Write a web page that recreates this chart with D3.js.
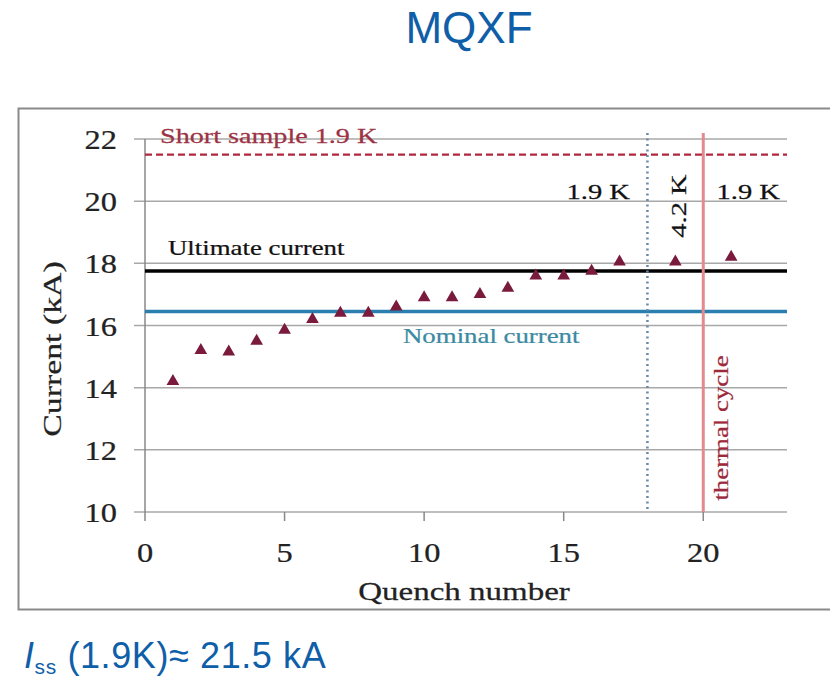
<!DOCTYPE html>
<html>
<head>
<meta charset="utf-8">
<script src="https://cdn.jsdelivr.net/npm/d3@7"></script>
<style>
  body { margin: 0; background: #fff; }
  svg text { font-family: "Liberation Serif", "Times New Roman", serif; }
</style>
</head>
<body>
<div id="chart"></div>
<script>
// quench data
const quenchNumbers = [1, 2, 3, 4, 5, 6, 7, 8, 9, 10, 11, 12, 13, 14, 15, 16, 17, 19, 21];
const quenchCurrents = [14.2, 15.2, 15.15, 15.5, 15.85, 16.2, 16.4, 16.4, 16.6, 16.9, 16.9, 17.0, 17.2, 17.6, 17.6, 17.75, 18.05, 18.05, 18.2];
const xTicks = [0, 5, 10, 15, 20];
const yTicks = [10, 12, 14, 16, 18, 20, 22];
const shortSample = 21.5;
const ultimateCurrent = 17.75;
const nominalCurrent = 16.45;
const tempChangeAt = 18;
const thermalCycleAt = 20;

const width = 830, height = 679;
const svg = d3.select('#chart').append('svg')
    .attr('width', width)
    .attr('height', height);

// serif text in the figure is wider than Liberation Serif, so stretch it a bit
function label(g, px, py, str, opts) {
    const o = Object.assign({ size: 22, sx: 1.3, anchor: 'start', rot: 0, fill: '#111' }, opts);
    return g.append('text')
        .attr('transform', `translate(${px},${py}) rotate(${o.rot}) scale(${o.sx},1)`)
        .attr('text-anchor', o.anchor)
        .style('font-size', o.size + 'px')
        .style('fill', o.fill)
        .style('stroke', o.fill)
        .style('stroke-width', 0.25)
        .text(str);
}

// title
svg.append('text')
    .attr('x', 469).attr('y', 43)
    .attr('text-anchor', 'middle')
    .style('font-family', '"Liberation Sans", Arial, sans-serif')
    .style('font-size', '44px')
    .style('fill', '#0f5ea8')
    .text('MQXF');

// outer frame of the figure
svg.append('rect')
    .attr('x', 18.5).attr('y', 108.5)
    .attr('width', 830).attr('height', 501)
    .style('fill', 'none')
    .style('stroke', '#8a8a8a')
    .style('stroke-width', 2);

const x = d3.scaleLinear().domain([0, 23]).range([145, 787]);
const y = d3.scaleLinear().domain([10, 22]).range([512, 139]);

// horizontal gridlines + y ticks
svg.append('g')
    .selectAll('line')
    .data(yTicks)
    .enter().append('line')
    .attr('x1', x(0) - 11)
    .attr('x2', x(23))
    .attr('y1', d => y(d))
    .attr('y2', d => y(d))
    .style('stroke', '#a8a8a8')
    .style('stroke-width', 1.5);

const yLab = svg.append('g');
yTicks.forEach(d => label(yLab, 117, y(d) + 10, d, { size: 27, sx: 1.2, anchor: 'end', fill: '#222' }));

// axes lines
svg.append('line')
    .attr('x1', x(0)).attr('x2', x(0))
    .attr('y1', y(22)).attr('y2', y(10))
    .style('stroke', '#888').style('stroke-width', 1.5);

svg.append('g')
    .selectAll('line')
    .data(xTicks)
    .enter().append('line')
    .attr('x1', d => x(d)).attr('x2', d => x(d))
    .attr('y1', y(10)).attr('y2', y(10) + 9)
    .style('stroke', '#888').style('stroke-width', 1.5);

const xLab = svg.append('g');
xTicks.forEach(d => label(xLab, x(d), 562, d, { size: 27, sx: 1.2, anchor: 'middle', fill: '#222' }));

// axis titles
label(svg, 61, 349, 'Current (kA)', { size: 26, sx: 1.3, anchor: 'middle', rot: -90, fill: '#222' });
label(svg, 464, 600, 'Quench number', { size: 26, sx: 1.27, anchor: 'middle', fill: '#222' });

// reference lines
svg.append('line')
    .attr('x1', x(0)).attr('x2', x(23))
    .attr('y1', y(shortSample)).attr('y2', y(shortSample))
    .style('stroke', '#b0283e').style('stroke-width', 2.2)
    .style('stroke-dasharray', '7,4');

svg.append('line')
    .attr('x1', x(0)).attr('x2', x(23))
    .attr('y1', y(ultimateCurrent)).attr('y2', y(ultimateCurrent))
    .style('stroke', '#000').style('stroke-width', 3.5);

svg.append('line')
    .attr('x1', x(0)).attr('x2', x(23))
    .attr('y1', y(nominalCurrent)).attr('y2', y(nominalCurrent))
    .style('stroke', '#2a7fae').style('stroke-width', 3.5);

svg.append('line')
    .attr('x1', x(tempChangeAt)).attr('x2', x(tempChangeAt))
    .attr('y1', y(22) - 6).attr('y2', y(10))
    .style('stroke', '#6a88a8').style('stroke-width', 2.5)
    .style('stroke-dasharray', '2,3.5');

svg.append('line')
    .attr('x1', x(thermalCycleAt)).attr('x2', x(thermalCycleAt))
    .attr('y1', y(22) - 6).attr('y2', y(10))
    .style('stroke', '#e28a8e').style('stroke-width', 3);

// annotations
label(svg, 160, 143, 'Short sample 1.9 K', { fill: '#9c3344', sx: 1.28 });
label(svg, 168, 255, 'Ultimate  current', { sx: 1.22 });
label(svg, 403, 343, 'Nominal  current', { fill: '#3b8aa2', sx: 1.22 });
label(svg, 630, 199, '1.9 K', { anchor: 'end' });
label(svg, 780, 199, '1.9 K', { anchor: 'end' });
label(svg, 686, 206, '4.2 K', { anchor: 'middle', rot: -90 });
label(svg, 728, 428, 'thermal  cycle', { anchor: 'middle', rot: -90, fill: '#9c2a3a', sx: 1.22 });

// quench markers
const tri = d3.symbol().type(d3.symbolTriangle).size(70);
svg.append('g')
    .selectAll('path')
    .data(quenchNumbers.map((n, i) => ({ n: n, v: quenchCurrents[i] })))
    .enter().append('path')
    .attr('d', tri)
    .attr('transform', d => `translate(${x(d.n)},${y(d.v)})`)
    .style('fill', '#7a1a3c');

// short sample limit note
const note = svg.append('text')
    .attr('x', 24).attr('y', 668)
    .style('font-family', '"Liberation Sans", Arial, sans-serif')
    .style('font-size', '36px')
    .style('letter-spacing', '0.6px')
    .style('fill', '#0f5ea8');
note.append('tspan').style('font-style', 'italic').text('I');
note.append('tspan').attr('dy', 6).style('font-size', '21px').text('ss');
note.append('tspan').attr('dy', -6).text(' (1.9K)≈ 21.5 kA');
</script>
</body>
</html>
